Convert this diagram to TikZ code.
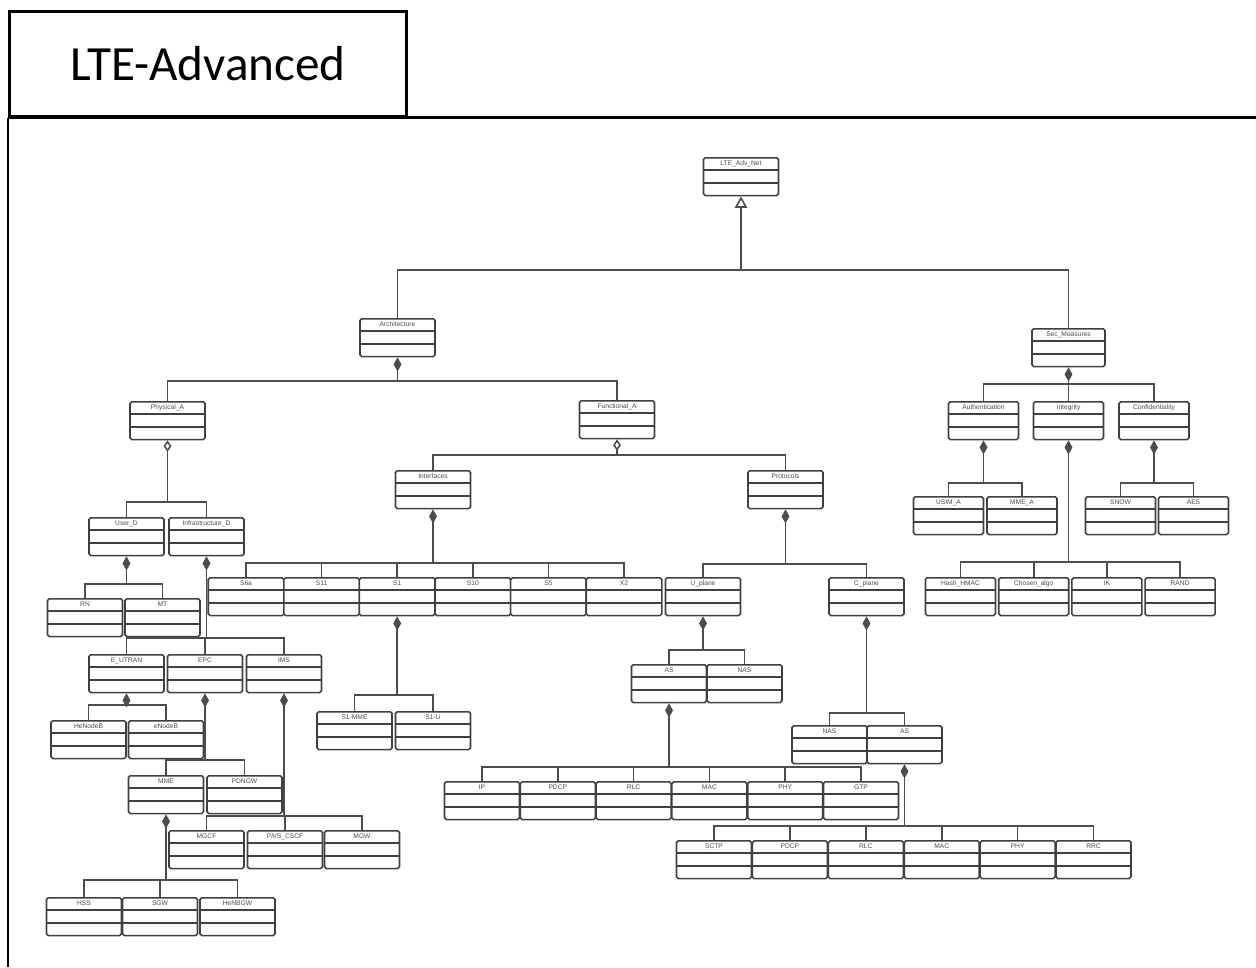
\documentclass[tikz,border=0pt]{standalone}
\usepackage{fontspec}
\newfontfamily\titlefont{Carlito}
\newfontfamily\boxfont{Liberation Sans}
\usetikzlibrary{arrows.meta}
\tikzset{
	cls/.style = {draw=black!75, line width=0.9pt, fill=white, rounded corners=1pt, anchor=north,
		minimum width=1.5cm, inner xsep=1pt, inner ysep=0pt, text height=4.3pt, text depth=17.2pt,
		font=\boxfont\fontsize{3.8}{4}\selectfont, text=black!70,
		path picture={
			\draw[black!75, line width=0.9pt] ([yshift=-0.24cm]path picture bounding box.north west) -- ([yshift=-0.24cm]path picture bounding box.north east);
			\draw[black!75, line width=0.9pt] ([yshift=-0.5cm]path picture bounding box.north west) -- ([yshift=-0.5cm]path picture bounding box.north east);
		}},
	scls/.style = {cls, minimum width=1.4cm},
	link/.style = {draw=black!70, line width=0.9pt},
	comp/.style = {link, {Diamond[length=8pt, width=4.5pt]}-},
	agg/.style = {link, {Diamond[open, length=6.5pt, width=4.5pt]}-},
	gen/.style = {link, {Triangle[open, length=6.5pt, width=7pt]}-},
	frame/.style = {draw=black, line width=1.7pt}
}
% parent, bar height, children
\newcommand{\umlfork}[4][comp]{%
	\draw[#1] (#2.south) -- (#2.south |- 0,#3);
	\foreach \c in {#4} {\draw[link] (#2.south |- 0,#3) -| (\c.north);}
}

\begin{document}
\begin{tikzpicture}[x=0.02cm, y=-0.02cm]
	\useasboundingbox (0,0) rectangle (1256,967);
	% ====== Frame ========
	\node[frame, anchor=north west, minimum width=7.94cm, minimum height=2.1cm,
		font=\titlefont\fontsize{28}{30}\selectfont] (title) at (8,10) {LTE-Advanced};
	\draw[frame] (title.south west) -- (title.south west |- 0,967);
	\draw[frame] (title.south west) -- (title.south west -| 1256,0);

	% ====== Classes ========
	\node[cls] (lte) at (741,157) {LTE\_Adv\_Net};
	\node[cls] (arch) at (397.5,318) {Architecture};
	\node[cls, minimum width=1.46cm] (sec) at (1068.5,328) {Sec\_Measures};
	\node[cls] (phys) at (167.5,401) {Physical\_A};
	\node[cls] (func) at (617,400) {Functional\_A};
	\node[scls] (auth) at (983.5,401) {Authentication};
	\node[scls] (integ) at (1068.5,401) {Integrity};
	\node[scls] (conf) at (1154,401) {Confidentiality};

	\node[cls] (user) at (126.5,517) {User\_D};
	\node[cls] (infra) at (206.5,517) {Infrastructure\_D};
	\node[cls] (rn) at (85,598) {RN};
	\node[cls] (mt) at (162.5,598) {MT};
	\node[cls] (iface) at (433,470) {Interfaces};
	\node[cls] (proto) at (785.5,470) {Protocols};

	\foreach \n/\t [count=\i from 0] in {s6a/S6a,s11/S11,s1/S1,s10/S10,s5/S5,x2/X2}
		\node[cls, minimum width=1.512cm] (\n) at ({246+75.6*\i},577) {\t};

	\node[cls] (uplane) at (703,577) {U\_plane};
	\node[cls] (cplane) at (866.5,577) {C\_plane};
	\node[cls] (as1) at (669,664) {AS};
	\node[cls] (nas1) at (744.5,664) {NAS};
	\foreach \n/\t [count=\i from 0] in {ip/IP,pdcpu/PDCP,rlcu/RLC,macu/MAC,phyu/PHY,gtp/GTP}
		\node[cls] (\n) at ({482+75.8*\i},781) {\t};
	\node[cls] (nas2) at (829.5,725) {NAS};
	\node[cls] (as2) at (904.5,725) {AS};
	\foreach \n/\t [count=\i from 0] in {sctp/SCTP,pdcpc/PDCP,rlcc/RLC,macc/MAC,phyc/PHY,rrc/RRC}
		\node[cls] (\n) at ({714+75.9*\i},840) {\t};

	\node[scls] (usim) at (948.5,496) {USIM\_A};
	\node[scls] (mmea) at (1022,496) {MME\_A};
	\node[scls] (snow) at (1120.5,496) {SNOW};
	\node[scls] (aes) at (1193.5,496) {AES};
	\foreach \n/\t [count=\i from 0] in {hash/Hash\_HMAC,algo/Chosen\_algo,ik/IK,rand/RAND}
		\node[scls] (\n) at ({960.5+73.2*\i},577) {\t};

	\node[cls] (eutran) at (126.5,654) {E\_UTRAN};
	\node[cls] (epc) at (205,654) {EPC};
	\node[cls] (ims) at (284,654) {IMS};
	\node[cls] (henb) at (88.5,720) {HeNodeB};
	\node[cls] (enb) at (166,720) {eNodeB};
	\node[cls] (mme) at (166,775) {MME};
	\node[cls] (pdngw) at (244.5,775) {PDNGW};
	\node[cls] (s1mme) at (354.5,711) {S1-MME};
	\node[cls] (s1u) at (433,711) {S1-U};
	\node[cls] (mgcf) at (206.5,830) {MGCF};
	\node[cls] (cscf) at (285,830) {P/I/S\_CSCF};
	\node[cls] (mgw) at (362,830) {MGW};
	\node[cls] (hss) at (84,897) {HSS};
	\node[cls] (sgw) at (160,897) {SGW};
	\node[cls] (henbgw) at (237.5,897) {HeNBGW};

	% ====== Links ========
	\umlfork[gen]{lte}{270}{arch,sec}
	\umlfork{arch}{381}{phys,func}
	\umlfork{sec}{384}{auth,integ,conf}
	\umlfork[agg]{phys}{502}{user,infra}
	\umlfork[agg]{func}{455}{iface,proto}
	\umlfork{user}{584}{rn,mt}
	\umlfork{infra}{638}{eutran,epc,ims}
	\umlfork{iface}{563}{s6a,s11,s1,s10,s5,x2}
	\umlfork{s1}{695}{s1mme,s1u}
	\umlfork{proto}{564}{uplane,cplane}
	\umlfork{uplane}{650}{as1,nas1}
	\umlfork{as1}{767}{ip,pdcpu,rlcu,macu,phyu,gtp}
	\umlfork{cplane}{713}{nas2,as2}
	\umlfork{as2}{826}{sctp,pdcpc,rlcc,macc,phyc,rrc}
	\umlfork{auth}{483}{usim,mmea}
	\umlfork{integ}{562}{hash,algo,ik,rand}
	\umlfork{conf}{483}{snow,aes}
	\umlfork{eutran}{705}{henb,enb}
	\umlfork{epc}{760}{mme,pdngw}
	\umlfork{ims}{816}{mgcf,cscf,mgw}
	\umlfork{mme}{880}{hss,sgw,henbgw}
\end{tikzpicture}
\end{document}
